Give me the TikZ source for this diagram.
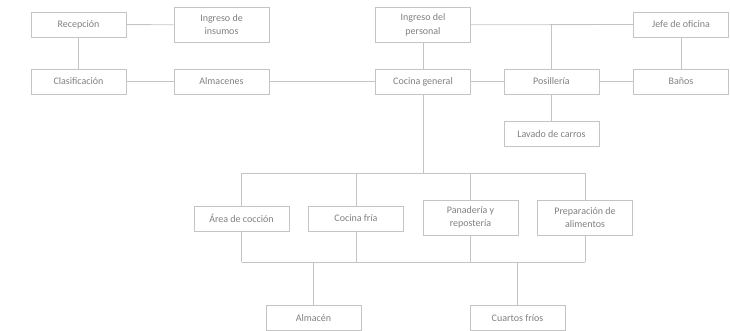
\documentclass[tikz,border=0pt]{standalone}
\usepackage{fontspec}
\setmainfont{Carlito}
\usetikzlibrary{positioning}

\definecolor{boxline}{HTML}{C4C4C4}
\definecolor{boxtext}{HTML}{808080}

\begin{document}
\begin{tikzpicture}[x=1pt, y=-1pt,
  area/.style={draw=boxline, line width=0.8pt, align=center, text=boxtext,
    minimum width=95pt, minimum height=25pt, inner sep=2pt,
    font=\fontsize{10}{13.5}\selectfont},
  area2/.style={area, minimum height=35pt},
  link/.style={draw=boxline, line width=0.8pt}
]
\useasboundingbox (0,0) rectangle (730,331);
% upper rows
\node[area] (recep) at (78.5,24.5) {Recepción};
\node[area2] (insumos) at (221.5,24.8) {Ingreso de\\insumos};
\node[area2] (personal) at (423,24.8) {Ingreso del\\personal};
\node[area] (jefe) at (681,24.5) {Jefe de oficina};
\node[area] (clasif) at (78.5,81.5) {Clasificación};
\node[area] (almacenes) at (221.5,81.5) {Almacenes};
\node[area] (cocina) at (423,81.5) {Cocina general};
\node[area] (posil) at (551.5,81.5) {Posillería};
\node[area] (banos) at (681,81.5) {Baños};
\node[area] (lavado) at (551.5,134) {Lavado de carros};
% work areas
\node[area] (coccion) at (241.5,218.5) {Área de cocción};
\node[area] (fria) at (356,218.5) {Cocina fría};
\node[area2] (panad) at (470.5,217.5) {Panadería y\\repostería};
\node[area2] (prep) at (585,217.5) {Preparación de\\alimentos};
% storage
\node[area] (almacen) at (313.5,318) {Almacén};
\node[area] (cuartos) at (517.5,318) {Cuartos fríos};

\coordinate (bustop) at (423,173);
\coordinate (busbot) at (423,262);

\draw[link] (recep) -- (insumos);
\draw[link] (recep) -- (clasif);
\draw[link] (clasif) -- (almacenes);
\draw[link] (almacenes) -- (cocina);
\draw[link] (personal) -- (cocina);
\draw[link] (personal) -- (jefe);
\draw[link] (posil) -- (posil |- personal);
\draw[link] (jefe) -- (banos);
\draw[link] (cocina) -- (posil);
\draw[link] (posil) -- (banos);
\draw[link] (posil) -- (lavado);

\draw[link] (cocina) -- (bustop);
\draw[link] (coccion |- bustop) -- (prep |- bustop);
\foreach \n in {coccion, fria, panad, prep} {
  \draw[link] (\n) -- (\n |- bustop);
  \draw[link] (\n) -- (\n |- busbot);
}
\draw[link] (coccion |- busbot) -- (prep |- busbot);
\draw[link] (almacen) -- (almacen |- busbot);
\draw[link] (cuartos) -- (cuartos |- busbot);
\end{tikzpicture}
\end{document}
